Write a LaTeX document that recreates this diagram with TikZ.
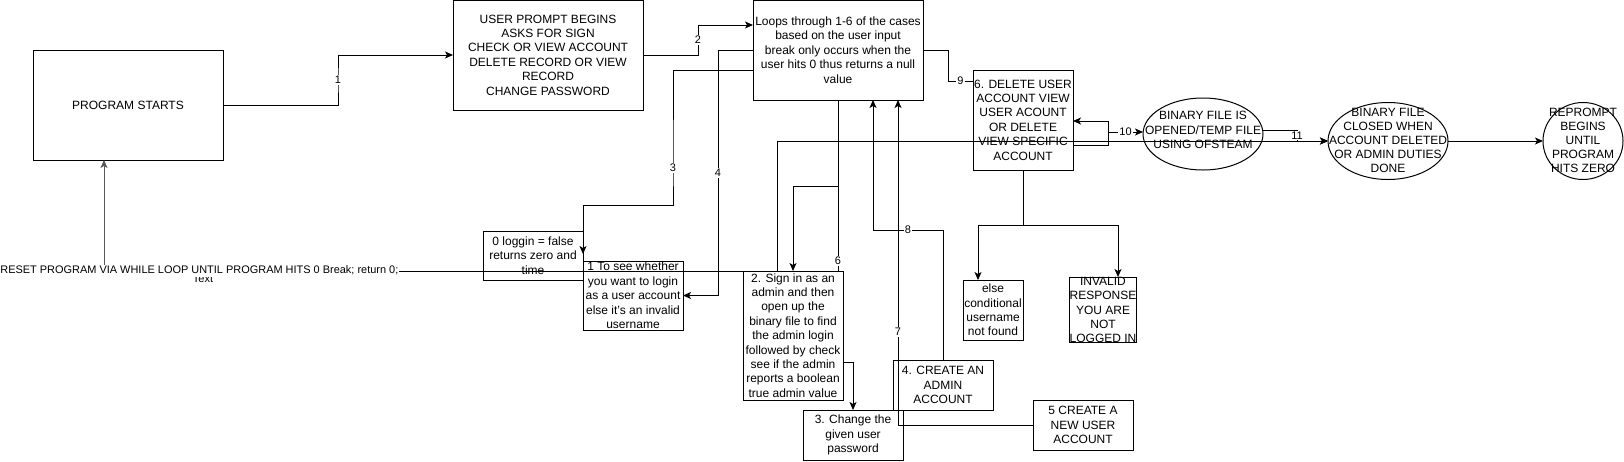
\documentclass[tikz,border=0pt]{standalone}
\usepackage{fontspec}
\setmainfont{Liberation Sans}
\usetikzlibrary{arrows.meta,shapes.geometric}
\begin{document}
\begin{tikzpicture}[x=1pt,y=-1pt,
  txt/.style={font=\fontsize{12}{14.4}\selectfont, align=center, inner sep=0pt},
  box/.style={draw, line width=1pt, inner sep=0pt, outer sep=0pt, font=\fontsize{12}{14.4}\selectfont, align=center},
  oval/.style={draw, ellipse, line width=1pt, inner sep=0pt, outer sep=0pt},
  con/.style={line width=1pt, draw=black},
  arr/.style={con, -{Stealth[length=8pt,width=7pt,inset=2pt]}},
  lbl/.style={fill=white, inner sep=1pt, font=\fontsize{11}{12}\selectfont}]
\useasboundingbox (0,0) rectangle (1624,461);

% nodes
\node[box, minimum width=190pt, minimum height=110pt] (A) at (128,105) {PROGRAM STARTS};
\node[box, minimum width=190pt, minimum height=110pt] (B) at (548,55) {USER PROMPT BEGINS\\ASKS FOR SIGN\\CHECK OR VIEW ACCOUNT\\DELETE RECORD OR VIEW\\RECORD\\CHANGE PASSWORD};
\node[box, minimum width=170pt, minimum height=100pt] (L) at (838,50) {Loops through 1-6 of the cases\\based on the user input\\break only occurs when the\\user hits 0 thus returns a null\\value};
\node[box, minimum width=100pt, minimum height=100pt] (b6) at (1023,120) {6. DELETE USER\\ACCOUNT VIEW\\USER ACOUNT\\OR DELETE\\VIEW SPECIFIC\\ACCOUNT};
\node[oval, minimum width=120pt, minimum height=72pt] (e1) at (1203,134) {};
\node[txt] (e1t) at (1203,130) {BINARY FILE IS\\OPENED/TEMP FILE\\USING OFSTEAM};
\node[oval, minimum width=120pt, minimum height=77pt] (e2) at (1388,141) {};
\node[txt, font=\fontsize{12}{14}\selectfont] (e2t) at (1388,140) {BINARY FILE\\CLOSED WHEN\\ACCOUNT DELETED\\OR ADMIN DUTIES\\DONE};
\node[oval, minimum width=80pt, minimum height=77pt] (e3) at (1583,141) {};
\node[txt, font=\fontsize{12}{14}\selectfont] (e3t) at (1583,140) {REPROMPT\\BEGINS\\UNTIL\\PROGRAM\\HITS ZERO};

\node[box, minimum width=100pt, minimum height=49pt] (b0) at (533,255.5) {0 loggin = false\\returns zero and\\time};
\node[box, minimum width=100pt, minimum height=69pt] (b1) at (633,295.5) {1 To see whether\\you want to login\\as a user account\\else it's an invalid\\username};
\node[box, minimum width=100pt, minimum height=129pt] (b2) at (793,335.5) {2. Sign in as an\\admin and then\\open up the\\binary file to find\\the admin login\\followed by check\\see if the admin\\reports a boolean\\true admin value};
\node[box, minimum width=100pt, minimum height=50pt] (b3) at (853,435) {3. Change the\\given user\\password};
\node[box, minimum width=100pt, minimum height=50pt] (b4) at (943,385) {4. CREATE AN\\ADMIN\\ACCOUNT};
\node[box, minimum width=100pt, minimum height=50pt] (b5) at (1083,425) {5 CREATE A\\NEW USER\\ACCOUNT};
\node[box, minimum width=60pt, minimum height=60pt] (b7) at (993,310) {else\\conditional\\username\\not found};
\node[box, minimum width=60pt, minimum height=60pt] (b8) at (1103,310) {INVALID\\RESPONSE\\YOU ARE\\NOT\\LOGGED IN};

\node[txt, font=\fontsize{11}{13}\selectfont] (tx) at (203,278.5) {Text};
\node[txt, fill=white, font=\fontsize{10.95}{13}\selectfont, text height=8pt, text depth=3.8pt, inner xsep=0.5pt, anchor=east] (reset) at (399,271) {RESET PROGRAM VIA WHILE LOOP UNTIL PROGRAM HITS 0 Break; return 0;};

% connectors
\draw[arr] (A.east) -| (338,80) node[lbl]{1} |- (B.west);
\draw[arr] (B.east) -| (698,40) node[lbl]{2} |- (L.west |- 0,25);
\draw[arr] (L.west |- 0,70) -| (673,168) node[lbl]{3} |- (583,205) -- (583,254);
\draw[arr] (L.west) -| (718,173) node[lbl]{4} |- (b1.east);
\draw[con] (L.south) -- (L.south |- b2.north) node[lbl, pos=0.94]{6};
\coordinate (j6) at (838,186);
\draw[arr] (j6) -| (b2.north);
\draw[arr] (b2.east |- 0,362) -| (b3.north);
\draw[arr] (b4.north) -- (943,230) -- node[lbl]{8} (873,230) -- (L.south -| 873,0);
\draw[arr] (b5.west) -- (898,425) -- node[lbl, pos=0.286]{7} (L.south -| 898,0);
\draw[con] (L.east) -| (948,81) -- node[lbl]{9} (b6.west |- 0,81);
\draw[arr] (b6.east |- 0,145) -| (1108,132) -- node[lbl]{10} (e1.west |- 0,132);
\draw[arr] (1108,132) |- (b6.east |- 0,121);
\draw[arr] (e1.east |- 0,130) -- (1297,130) -- node[lbl]{11} (1297,141) -- (e2.west);
\draw[arr] (e2.east) -- (e3.west);
\draw[arr] (reset.east |- 0,271) -| (777,141) -- (e2.west);
\draw[arr, draw=black!65] (reset.north -| 104,0) -- (A.south -| 104,0);
\coordinate (j9) at (1023,225);
\draw[con] (b6.south) -- (j9);
\draw[arr] (j9) -| (b7.north -| 978,0);
\draw[arr] (j9) -| (b8.north -| 1118,0);
\end{tikzpicture}
\end{document}
